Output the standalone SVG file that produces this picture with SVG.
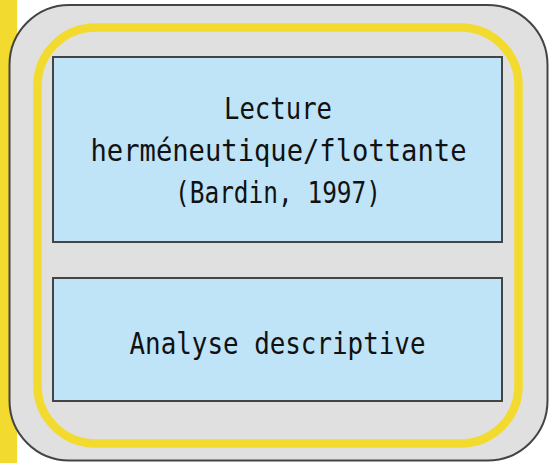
<svg xmlns="http://www.w3.org/2000/svg" width="549" height="463" viewBox="0 0 549 463">
<style>
.box{fill:#c0e4f7;stroke:#444;stroke-width:2}
.lbl{font-family:"DejaVu Sans Mono","Liberation Mono",monospace;font-size:30px;fill:#111;text-anchor:middle}
</style>
<rect x="0" y="0" width="17" height="463" fill="#f3da2f"/>
<g id="outer">
<rect x="9.5" y="5" width="538" height="455.5" rx="60" ry="60" fill="#e0e0e0" stroke="#444" stroke-width="2"/>
</g>
<g id="inner">
<rect x="37.5" y="27.5" width="481" height="416" rx="58" ry="58" fill="none" stroke="#f3da2f" stroke-width="8.5"/>
</g>
<g id="connectors"></g>
<g id="node1">
<rect class="box" x="53" y="57" width="449" height="185"/>
<text class="lbl" x="278" y="119" textLength="108" lengthAdjust="spacingAndGlyphs">Lecture</text>
<text class="lbl" x="278.5" y="161" textLength="376" lengthAdjust="spacingAndGlyphs">herméneutique/flottante</text>
<text class="lbl" x="278" y="203" textLength="206" lengthAdjust="spacingAndGlyphs">(Bardin, 1997)</text>
</g>
<g id="node2">
<rect class="box" x="53" y="278" width="449" height="123"/>
<text class="lbl" x="277.5" y="354" textLength="296" lengthAdjust="spacingAndGlyphs">Analyse descriptive</text>
</g>
</svg>
